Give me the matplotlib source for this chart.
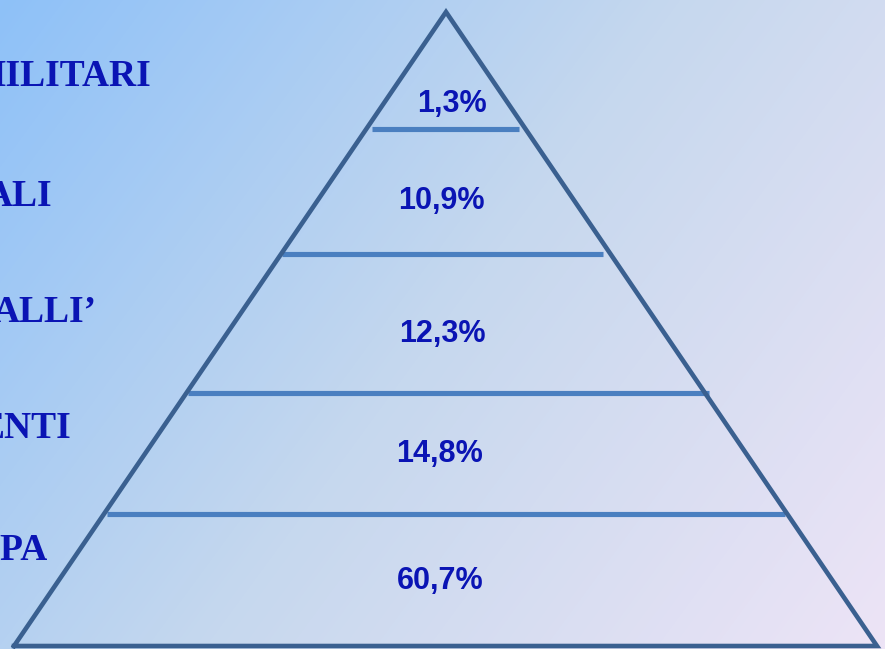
import numpy as np
import matplotlib
matplotlib.use("Agg")
import matplotlib.pyplot as plt
from matplotlib.colors import LinearSegmentedColormap

# ---- data ----
labels = ["MILITARI", "ALI", "ALLI\u2019", "ENTI", "PPA"]
values = ["1,3%", "10,9%", "12,3%", "14,8%", "60,7%"]

# ---- layout (pixel space) ----
W, H = 885, 649
apex = (446, 12)
base_left, base_right = (14, 646), (877, 646)
sep_y = [129, 254, 393, 514]
sep_x0 = [372, 282, 188, 107]
sep_x1 = [519, 603, 709, 785]
label_x_right = [151, 52, 97, 71, 48]
label_base = [86, 206, 322, 438, 560]
value_x = [452, 441, 442, 440, 440]
value_base = [112, 209, 342, 462, 589]

fig = plt.figure(figsize=(W / 100, H / 100), dpi=100)
ax = fig.add_axes([0, 0, 1, 1])
ax.set_xlim(0, W)
ax.set_ylim(H, 0)
ax.axis("off")

# background gradient
xx, yy = np.meshgrid(np.arange(W), np.arange(H))
t = (xx * W + yy * H) / (W ** 2 + H ** 2)
cmap = LinearSegmentedColormap.from_list(
    "bg", ["#8ec1f8", "#c6d8ee", "#ede4f6"])
ax.imshow(t, cmap=cmap, extent=(0, W, H, 0), aspect="auto", zorder=0)

# separators
for y, x0, x1 in zip(sep_y, sep_x0, sep_x1):
    ax.plot([x0, x1], [y, y], color="#4a7fc0", lw=3.7,
            solid_capstyle="butt", zorder=2)

# triangle
tx = [base_left[0], apex[0], base_right[0], base_left[0]]
ty = [base_left[1], apex[1], base_right[1], base_left[1]]
ax.plot(tx, ty, color="#3a6090", lw=3.3, solid_joinstyle="miter", zorder=3)

# text
for lab, x, y in zip(labels, label_x_right, label_base):
    ax.text(x, y, lab, ha="right", va="baseline", fontsize=27,
            fontweight="bold", family="Liberation Serif", color="#0a14b4",
            zorder=4)
for val, x, y in zip(values, value_x, value_base):
    ax.text(x, y, val, ha="center", va="baseline", fontsize=22,
            fontweight="bold", family="Liberation Sans", color="#0a14b4",
            zorder=4)

fig.savefig("out.png", dpi=100)
